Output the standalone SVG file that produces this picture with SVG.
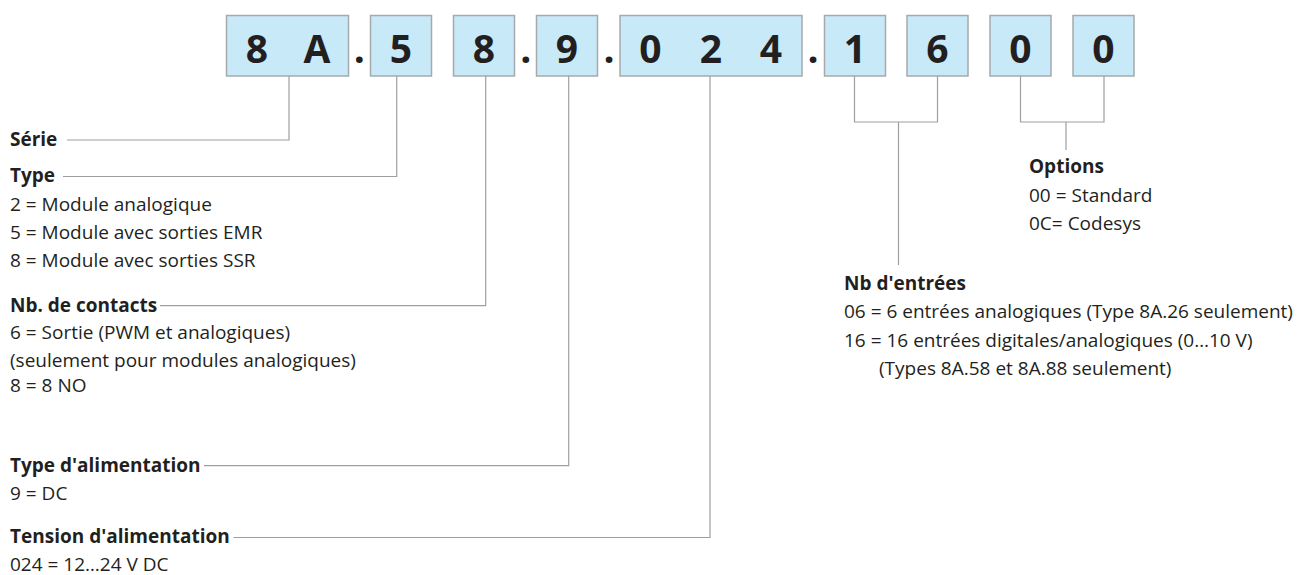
<svg xmlns="http://www.w3.org/2000/svg" width="1297" height="575" viewBox="0 0 1297 575">
<style>
.box{fill:#c8e9f8;stroke:#a7a9ac;stroke-width:1.5}
.dg{font-family:"Open Sans","Liberation Sans",sans-serif;font-weight:700;font-size:39px;fill:#231f20;text-anchor:middle}
.t{font-family:"Open Sans","Liberation Sans",sans-serif;font-size:19px;fill:#231f20}
.b{font-weight:700}
.ln{fill:none;stroke:#9d9fa2;stroke-width:1.2}
</style>
<rect width="1297" height="575" fill="#ffffff"/>
<g id="code">
<g id="box-8A"><rect class="box" x="226.5" y="15.5" width="122" height="60.5"/><text class="dg" x="257" y="62.7">8</text><text class="dg" x="317" y="62.7">A</text></g>
<text class="dg" x="359.3" y="62.7">.</text>
<g id="box-5"><rect class="box" x="370.5" y="15.5" width="61" height="60.5"/><text class="dg" x="401" y="62.7">5</text></g>
<g id="box-8"><rect class="box" x="453.5" y="15.5" width="61" height="60.5"/><text class="dg" x="484" y="62.7">8</text></g>
<text class="dg" x="525.7" y="62.7">.</text>
<g id="box-9"><rect class="box" x="536.5" y="15.5" width="61" height="60.5"/><text class="dg" x="567" y="62.7">9</text></g>
<text class="dg" x="609" y="62.7">.</text>
<g id="box-024"><rect class="box" x="620" y="15.5" width="182" height="60.5"/><text class="dg" x="650.5" y="62.7">0</text><text class="dg" x="711" y="62.7">2</text><text class="dg" x="771" y="62.7">4</text></g>
<text class="dg" x="813" y="62.7">.</text>
<g id="box-1"><rect class="box" x="824.5" y="15.5" width="61" height="60.5"/><text class="dg" x="855" y="62.7">1</text></g>
<g id="box-6"><rect class="box" x="907" y="15.5" width="61" height="60.5"/><text class="dg" x="937.5" y="62.7">6</text></g>
<g id="box-0a"><rect class="box" x="990" y="15.5" width="61" height="60.5"/><text class="dg" x="1020.5" y="62.7">0</text></g>
<g id="box-0b"><rect class="box" x="1073" y="15.5" width="61" height="60.5"/><text class="dg" x="1103.5" y="62.7">0</text></g>
</g>
<g id="connectors">
<path class="ln" d="M67,140 H289 V76"/>
<path class="ln" d="M63,176.5 H396.7 V76"/>
<path class="ln" d="M160,305.7 H485.7 V76"/>
<path class="ln" d="M204,465.7 H568.7 V76"/>
<path class="ln" d="M233.5,537.5 H710 V76"/>
<path class="ln" d="M854.5,76 V122 H937.5 V76 M898.5,122 V265"/>
<path class="ln" d="M1020.5,76 V122 H1104 V76 M1066,122 V150"/>
</g>
<g id="serie"><text class="t b" x="10" y="146">Série</text></g>
<g id="type"><text class="t b" x="10" y="182">Type</text>
<text class="t" x="10" y="211">2 = Module analogique</text>
<text class="t" x="10" y="239">5 = Module avec sorties EMR</text>
<text class="t" x="10" y="267">8 = Module avec sorties SSR</text></g>
<g id="contacts"><text class="t b" x="10" y="311.7">Nb. de contacts</text>
<text class="t" x="10" y="339">6 = Sortie (PWM et analogiques)</text>
<text class="t" x="10" y="366.5">(seulement pour modules analogiques)</text>
<text class="t" x="10" y="392">8 = 8 NO</text></g>
<g id="alim-type"><text class="t b" x="10" y="471.5">Type d'alimentation</text>
<text class="t" x="10" y="499.5">9 = DC</text></g>
<g id="alim-tension"><text class="t b" x="10" y="543">Tension d'alimentation</text>
<text class="t" x="10" y="570.5">024 = 12…24 V DC</text></g>
<g id="entrees"><text class="t b" x="844" y="290">Nb d'entrées</text>
<text class="t" x="844" y="318.3">06 = 6 entrées analogiques (Type 8A.26 seulement)</text>
<text class="t" x="844" y="347">16 = 16 entrées digitales/analogiques (0…10 V)</text>
<text class="t" x="879" y="375">(Types 8A.58 et 8A.88 seulement)</text></g>
<g id="options"><text class="t b" x="1029" y="173.3">Options</text>
<text class="t" x="1029" y="201.7">00 = Standard</text>
<text class="t" x="1029" y="230">0C= Codesys</text></g>
</svg>
